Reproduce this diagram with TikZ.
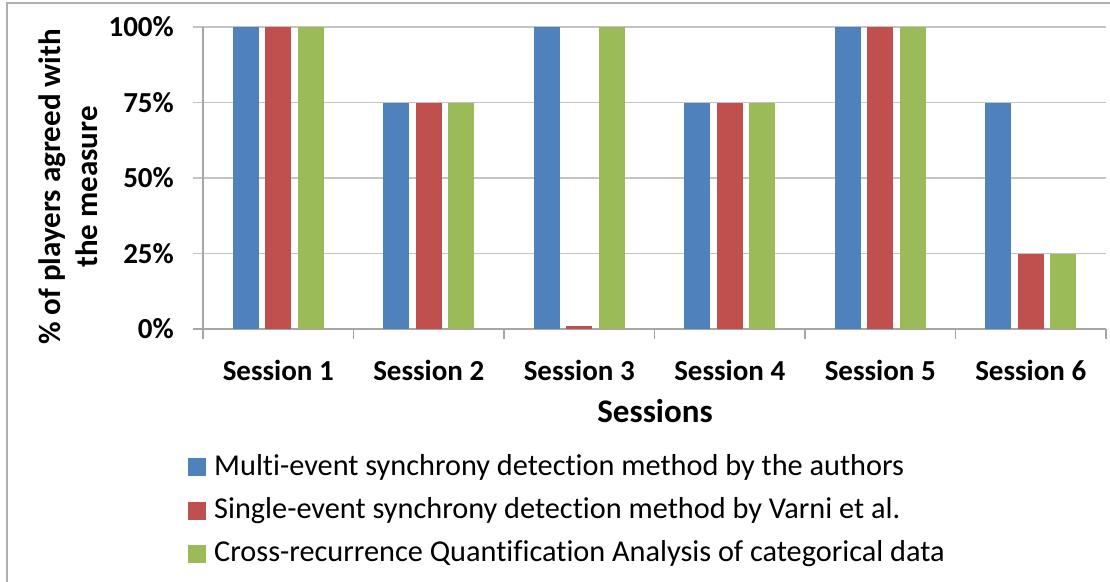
\documentclass[tikz,border=0pt]{standalone}
\usepackage{fontspec}
\setmainfont{Carlito}[Ligatures=NoCommon]
\definecolor{serA}{HTML}{4F81BD}
\definecolor{serB}{HTML}{C0504D}
\definecolor{serC}{HTML}{9BBB59}
\definecolor{gridgray}{HTML}{C4C4C4}
\definecolor{axisgray}{HTML}{A6A6A6}
\definecolor{framegray}{HTML}{B0B0B0}
\begin{document}
\begin{tikzpicture}[x=1pt,y=-1pt,
  gridline/.style={draw=gridgray,line width=1.6pt},
  axisline/.style={draw=axisgray,line width=1.6pt},
  ticklabel/.style={font=\fontsize{29}{34}\selectfont\bfseries,inner sep=0pt},
  catlabel/.style={font=\fontsize{29}{34}\selectfont\bfseries,inner sep=0pt},
  titlelabel/.style={font=\fontsize{33}{38}\selectfont\bfseries,inner sep=0pt},
  legtext/.style={font=\fontsize{30.3}{36}\selectfont,inner sep=0pt,anchor=west},
  legkey/.style={minimum size=18pt,inner sep=0pt}]
\useasboundingbox (0,0) rectangle (1110,581);
\fill[white] (0,0) rectangle (1110,581);
% outer chart frame (right and bottom edges lie past the page)
\draw[draw=framegray,line width=1.6pt] (7,590) -- (7,3) -- (1120,3);

% horizontal gridlines with outward ticks
\foreach \v in {25,50,75,100}{
  \draw[gridline] (193,{329-3.02*\v}) -- (1106,{329-3.02*\v});
}
% value axis and category axis
\draw[axisline] (203,27) -- (203,339);
\draw[axisline] (193,329) -- (1106,329);
\foreach \k in {0,...,6}{
  \draw[axisline] ({203+150.5*\k},329) -- ({203+150.5*\k},339);
}

% value labels
\foreach \v/\lab in {0/0\%,25/25\%,50/50\%,75/75\%,100/100\%}{
  \node[ticklabel,anchor=east] (tick\v) at (174,{329-3.02*\v}) {\lab};
}

% bars: session / blue / red / green
\foreach \k/\a/\b/\c in {1/100/100/100,2/75/75/75,3/100/1/100,4/75/75/75,5/100/100/100,6/75/25/25}{
  \pgfmathsetmacro{\cx}{203+150.5*(\k-0.5)}
  \fill[serA] ({\cx-32.5-13},329) rectangle ({\cx-32.5+13},{329-3.02*\a});
  \fill[serB] ({\cx-13},329) rectangle ({\cx+13},{329-3.02*\b});
  \fill[serC] ({\cx+32.5-13},329) rectangle ({\cx+32.5+13},{329-3.02*\c});
  \node[catlabel] (cat\k) at (\cx,370) {Session \k};
}

% axis titles
\node[titlelabel] (xtitle) at (655,411) {Sessions};
\node[titlelabel,font=\fontsize{31}{37}\selectfont\bfseries,rotate=90,align=center] (ytitle) at (68,187)
  {\% of players agreed with\\the measure};

% legend
\node[legkey,fill=serA] (keyA) at (197,467) {};
\node[legkey,fill=serB] (keyB) at (197,511) {};
\node[legkey,fill=serC] (keyC) at (197,554) {};
\node[legtext] (legA) at (214,467) {Multi-event synchrony detection method by the authors};
\node[legtext] (legB) at (214,511) {Single-event synchrony detection method by Varni et al.};
\node[legtext] (legC) at (214,554) {Cross-recurrence Quantification Analysis of categorical data};
\end{tikzpicture}
\end{document}
